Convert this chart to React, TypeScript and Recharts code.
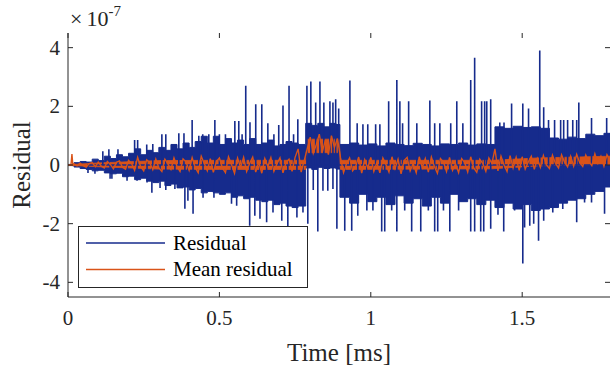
import { ComposedChart, XAxis, YAxis, Line, Area, Legend } from "recharts";

const BLUE = "#162b8c";
const ORANGE = "#d95319";
const AXIS = "#262626";
const FONT = '"Liberation Serif", "Times New Roman", serif';

const PLOT_TOP = 33;
const PLOT_RIGHT = 610;

// ticks: time in ms, residual in units of 1e-7
const timeTicks = [0, 0.5, 1, 1.5];
const residualTicks = [-4, -2, 0, 2, 4];

// dense part of the residual (envelope of the blue band)
const bandTime = [
  0, 0.02, 0.04, 0.06, 0.08, 0.1, 0.12, 0.14, 0.16, 0.18, 0.2, 0.22, 0.24, 0.26, 0.28, 0.3, 0.32, 0.34, 0.36, 0.38,
  0.4, 0.42, 0.44, 0.46, 0.48, 0.5, 0.52, 0.54, 0.56, 0.58, 0.6, 0.62, 0.64, 0.66, 0.68, 0.7, 0.72, 0.74, 0.76,
  0.785, 0.805, 0.825, 0.845, 0.865, 0.885,
  0.898, 0.93, 0.96, 0.99, 1.02, 1.05, 1.08, 1.11, 1.14, 1.17, 1.2, 1.23, 1.26, 1.29, 1.32, 1.35, 1.38, 1.41, 1.44,
  1.47, 1.5, 1.53, 1.56, 1.59, 1.62, 1.65, 1.68, 1.71, 1.74, 1.77, 1.79,
];
const bandUpper = [
  0.02, 0.08, 0.12, 0.1, 0.2, 0.15, 0.3, 0.22, 0.35, 0.28, 0.4, 0.55, 0.35, 0.5, 0.42, 0.6, 0.5, 0.7, 0.55, 0.75,
  0.6, 0.8, 0.98, 0.75, 0.98, 0.7, 0.9, 0.75, 0.85, 0.7, 0.9, 0.7, 0.75, 0.85, 0.65, 0.7, 0.8, 0.75, 0.7,
  1.42, 1.35, 1.42, 1.3, 1.42, 1.38,
  0.7, 0.75, 0.68, 0.72, 0.65, 0.75, 0.7, 0.66, 0.74, 0.7, 0.65, 0.72, 0.7, 0.75, 0.68, 0.72, 0.7, 1.3, 1.25,
  1.32, 1.28, 1.3, 1.25, 0.92, 0.88, 0.95, 0.9, 1.05, 1.0, 1.08, 1.05,
];
const bandLower = [
  -0.02, -0.07, -0.12, -0.15, -0.2, -0.18, -0.27, -0.3, -0.28, -0.4, -0.38, -0.5, -0.45, -0.55, -0.6, -0.55, -0.7, -0.65, -0.78, -0.75,
  -0.85, -0.8, -0.95, -0.9, -0.95, -1.0, -0.95, -1.1, -1.05, -1.15, -1.1, -1.2, -1.25, -1.2, -1.35, -1.3, -1.4, -1.45, -1.4,
  -0.1, -0.15, -0.08, -0.12, -0.1, -0.14,
  -1.1, -1.3, -1.0, -1.25, -1.1, -1.35, -1.05, -1.3, -1.15, -1.4, -1.1, -1.3, -1.0, -1.25, -1.15, -1.35, -1.2, -1.45, -1.3,
  -1.5, -1.35, -1.55, -1.5, -1.45, -1.3, -1.2, -1.15, -1.0, -0.9, -0.75, -0.65,
];

// residual spikes above the band
const upTime = [0.115, 0.135, 0.165, 0.22, 0.23, 0.26, 0.28, 0.31, 0.323, 0.366, 0.383, 0.41, 0.432, 0.445, 0.465, 0.485, 0.5, 0.52, 0.551, 0.564, 0.575, 0.587, 0.601, 0.62, 0.64, 0.66, 0.68, 0.696, 0.71, 0.73, 0.745, 0.759, 0.789, 0.802, 0.818, 0.832, 0.845, 0.865, 0.875, 0.884, 0.894, 0.931, 0.955, 0.974, 0.99, 1.016, 1.03, 1.059, 1.086, 1.096, 1.105, 1.125, 1.152, 1.195, 1.211, 1.228, 1.264, 1.284, 1.304, 1.33, 1.343, 1.366, 1.376, 1.383, 1.396, 1.426, 1.44, 1.465, 1.502, 1.521, 1.558, 1.571, 1.587, 1.607, 1.627, 1.637, 1.65, 1.667, 1.68, 1.687, 1.729, 1.779];
const upValue = [0.47, 0.54, 0.54, 0.85, 0.85, 0.7, 0.72, 1.05, 1.05, 1.08, 1.08, 1.53, 1.0, 1.05, 1.05, 1.53, 1.05, 1.05, 1.5, 1.5, 1.05, 2.7, 1.46, 2.07, 2.07, 1.42, 1.05, 1.36, 2.03, 2.7, 1.05, 1.56, 2.7, 2.85, 2.13, 2.85, 2.13, 2.17, 2.13, 2.24, 1.93, 2.88, 1.42, 1.39, 1.39, 1.39, 1.39, 2.17, 2.9, 2.17, 1.42, 2.17, 1.42, 2.2, 1.42, 1.42, 1.42, 2.17, 1.42, 2.9, 3.66, 2.17, 2.17, 2.17, 2.24, 1.45, 1.45, 2.1, 2.1, 1.93, 3.9, 1.97, 1.53, 1.53, 1.53, 1.53, 1.53, 1.53, 1.53, 2.13, 1.6, 1.6];

// residual spikes below the band
const downTime = [0.066, 0.089, 0.139, 0.145, 0.195, 0.228, 0.261, 0.277, 0.304, 0.323, 0.353, 0.386, 0.396, 0.413, 0.446, 0.482, 0.54, 0.557, 0.6, 0.617, 0.634, 0.656, 0.677, 0.706, 0.726, 0.756, 0.776, 0.792, 0.81, 0.825, 0.842, 0.858, 0.875, 0.888, 0.914, 0.937, 0.957, 0.987, 1.007, 1.036, 1.046, 1.069, 1.086, 1.112, 1.135, 1.165, 1.19, 1.211, 1.221, 1.24, 1.261, 1.29, 1.33, 1.343, 1.363, 1.373, 1.396, 1.42, 1.439, 1.475, 1.502, 1.508, 1.525, 1.538, 1.554, 1.571, 1.601, 1.634, 1.68, 1.706, 1.729, 1.772];
const downValue = [-0.27, -0.3, -0.47, -0.47, -0.54, -0.54, -0.6, -0.95, -0.78, -0.85, -0.82, -1.49, -1.22, -1.66, -1.12, -1.12, -1.32, -1.39, -2.07, -1.73, -1.83, -1.95, -1.62, -1.9, -2.13, -1.79, -1.62, -2.0, -0.85, -2.27, -0.88, -0.88, -0.82, -2.17, -2.24, -2.24, -1.73, -1.55, -1.55, -2.27, -2.27, -1.55, -2.27, -1.55, -2.27, -2.27, -1.55, -2.27, -2.27, -1.55, -2.27, -1.55, -2.27, -2.27, -2.27, -2.27, -2.17, -1.7, -2.27, -1.55, -3.36, -2.13, -2.07, -2.0, -2.58, -1.9, -1.62, -1.5, -1.95, -1.28, -1.28, -1.66];

// mean residual: core ribbon + noisy trace
const meanBandTime = [0, 0.1, 0.3, 0.5, 0.785, 0.79, 0.895, 0.9, 1.4, 1.55, 1.79];
const meanBandUpper = [0.01, 0.07, 0.15, 0.16, 0.16, 0.88, 0.88, 0.16, 0.16, 0.24, 0.3];
const meanBandLower = [-0.01, -0.06, -0.14, -0.15, -0.15, 0.42, 0.42, -0.15, -0.13, -0.03, 0.02];

const meanTime = [
  0, 0.005, 0.01, 0.013, 0.016,
  0.02, 0.03, 0.04, 0.05, 0.06, 0.07, 0.08, 0.09,
  0.1, 0.11, 0.12, 0.13, 0.14, 0.15, 0.16, 0.17, 0.18, 0.19,
  0.2, 0.21, 0.22, 0.23, 0.24, 0.25, 0.26, 0.27, 0.28, 0.29,
  0.3, 0.31, 0.32, 0.33, 0.34, 0.35, 0.36, 0.37, 0.38, 0.39,
  0.4, 0.41, 0.42, 0.43, 0.44, 0.45, 0.46, 0.47, 0.48, 0.49,
  0.5, 0.51, 0.52, 0.53, 0.54, 0.55, 0.56, 0.57, 0.58, 0.59,
  0.6, 0.61, 0.62, 0.63, 0.64, 0.65, 0.66, 0.67, 0.68, 0.69,
  0.7, 0.71, 0.72, 0.73, 0.74, 0.75, 0.76, 0.77, 0.78, 0.79,
  0.8, 0.81, 0.82, 0.83, 0.84, 0.85, 0.86, 0.87, 0.88, 0.89,
  0.9, 0.91, 0.92, 0.93, 0.94, 0.95, 0.96, 0.97, 0.98, 0.99,
  1.0, 1.01, 1.02, 1.03, 1.04, 1.05, 1.06, 1.07, 1.08, 1.09,
  1.1, 1.11, 1.12, 1.13, 1.14, 1.15, 1.16, 1.17, 1.18, 1.19,
  1.2, 1.21, 1.22, 1.23, 1.24, 1.25, 1.26, 1.27, 1.28, 1.29,
  1.3, 1.31, 1.32, 1.33, 1.34, 1.35, 1.36, 1.37, 1.38, 1.39,
  1.4, 1.41, 1.42, 1.43, 1.44, 1.45, 1.46, 1.47, 1.48, 1.49,
  1.5, 1.51, 1.52, 1.53, 1.54, 1.55, 1.56, 1.57, 1.58, 1.59,
  1.6, 1.61, 1.62, 1.63, 1.64, 1.65, 1.66, 1.67, 1.68, 1.69,
  1.7, 1.71, 1.72, 1.73, 1.74, 1.75, 1.76, 1.77, 1.78, 1.79,
];
const meanValue = [
  0, 0.01, 0.02, 0.37, 0,
  0.04, -0.03, 0.06, -0.02, -0.07, 0.05, 0.08, -0.06,
  0.1, -0.04, -0.1, 0.12, 0.02, -0.13, 0.09, 0.14, -0.08, -0.14,
  0.16, 0.05, -0.18, 0.26, -0.06, -0.2, 0.18, 0.08, -0.16, 0.2,
  -0.1, -0.22, 0.2, 0.04, -0.15, 0.24, -0.05, -0.22, 0.21, 0.1,
  -0.18, 0.25, -0.08, -0.26, 0.3, 0.05, -0.2, 0.22, -0.25, 0.12,
  0.24, -0.1, -0.26, 0.28, 0.02, -0.28, 0.24, -0.08, 0.26, -0.22,
  0.06, 0.27, -0.24, 0.1, -0.28, 0.22, -0.05, 0.25, -0.22, 0.04,
  0.24, -0.27, 0.08, 0.2, -0.22, 0.26, 0.55, -0.24, 0.15, 0.55,
  0.95, 0.4, 0.7, 1.05, 0.45, 0.85, 0.35, 1.0, 0.6, 0.9,
  0.25, -0.26, 0.05, 0.24, -0.2, -0.05, 0.27, -0.28, 0.18, -0.1,
  0.26, -0.22, 0.08, -0.27, 0.24, 0.02, -0.24, 0.28, -0.12, 0.2,
  -0.3, 0.15, 0.26, -0.2, 0.05, -0.26, 0.28, -0.08, 0.22, -0.24,
  0.27, -0.05, -0.28, 0.22, 0.1, -0.22, 0.26, -0.18, 0.04, -0.26,
  0.22, 0.08, -0.24, 0.28, -0.1, -0.25, 0.2, 0.05, -0.22, 0.24,
  0.05, 0.55, -0.2, 0.3, 0.0, -0.22, 0.32, -0.1, 0.26, -0.18,
  0.28, -0.14, 0.1, 0.3, -0.15, 0.22, -0.08, 0.32, 0.0, -0.12,
  0.33, 0.05, -0.1, 0.35, 0.1, -0.06, 0.3, -0.04, 0.36, 0.08,
  -0.05, 0.34, 0.12, -0.02, 0.38, 0.06, 0.3, -0.04, 0.35, 0.15,
];

const legendItems = [
  { name: "Residual", color: BLUE },
  { name: "Mean residual", color: ORANGE },
];

const bandData = bandTime.map((t, i) => ({ t, range: [bandLower[i], bandUpper[i]] }));
const spikeData = [
  ...upTime.map((t, i) => ({ t, v: upValue[i] })),
  ...downTime.map((t, i) => ({ t, v: downValue[i] })),
]
  .sort((a, b) => a.t - b.t)
  .flatMap((s) => [{ t: s.t, v: 0 }, { t: s.t, v: s.v }, { t: s.t, v: 0 }]);
const meanBandData = meanBandTime.map((t, i) => ({ t, range: [meanBandLower[i], meanBandUpper[i]] }));
const meanData = meanTime.map((t, i) => ({ t, v: meanValue[i] }));

function TimeTick({ x, y, payload }: any) {
  return (
    <g>
      <line x1={x} x2={x} y1={y} y2={y - 5} stroke={AXIS} />
      <line x1={x} x2={x} y1={PLOT_TOP} y2={PLOT_TOP + 5} stroke={AXIS} />
      <text x={x} y={y + 28} textAnchor="middle" style={{ fontFamily: FONT, fontSize: 21 }} fill={AXIS}>
        {payload.value}
      </text>
    </g>
  );
}

function ResidualTick({ x, y, payload }: any) {
  return (
    <g>
      <line x1={x} x2={x + 5} y1={y} y2={y} stroke={AXIS} />
      <line x1={PLOT_RIGHT} x2={PLOT_RIGHT - 5} y1={y} y2={y} stroke={AXIS} />
      <text x={x - 8} y={y + 7} textAnchor="end" style={{ fontFamily: FONT, fontSize: 21 }} fill={AXIS}>
        {payload.value}
      </text>
    </g>
  );
}

function LegendBox() {
  return (
    <svg width={230} height={62} style={{ display: "block" }}>
      <rect x={0.5} y={0.5} width={229} height={61} fill="#fff" stroke={AXIS} />
      {legendItems.map((it, i) => (
        <g key={it.name}>
          <line x1={8} x2={87} y1={17 + i * 26.5} y2={17 + i * 26.5} stroke={it.color} strokeWidth={1.3} />
          <text x={95} y={23.5 + i * 26.5} style={{ fontFamily: FONT, fontSize: 21 }} fill="#000">
            {it.name}
          </text>
        </g>
      ))}
    </svg>
  );
}

export default function App() {
  return (
    <div style={{ position: "fixed", left: 0, top: 0, width: 611, height: 370, background: "#fff" }}>
      <ComposedChart width={611} height={370} margin={{ top: PLOT_TOP, right: 1, bottom: 43, left: 28 }}>
        <XAxis
          dataKey="t"
          type="number"
          domain={[0, 1.79]}
          allowDataOverflow
          ticks={timeTicks}
          height={30}
          tickSize={0}
          tickMargin={0}
          tickLine={false}
          axisLine={{ stroke: AXIS }}
          tick={<TimeTick />}
          label={(p: any) => (
            <text
              x={p.viewBox.x + p.viewBox.width / 2}
              y={p.viewBox.y + 64}
              textAnchor="middle"
              style={{ fontFamily: FONT, fontSize: 25 }}
              fill={AXIS}
            >
              Time [ms]
            </text>
          )}
        />
        <XAxis
          xAxisId="top"
          orientation="top"
          type="number"
          domain={[0, 1.79]}
          height={0}
          tick={false}
          tickLine={false}
          axisLine={{ stroke: AXIS }}
        />
        <YAxis
          type="number"
          domain={[-4.5, 4.5]}
          allowDataOverflow
          ticks={residualTicks}
          width={40}
          tickSize={0}
          tickMargin={0}
          tickLine={false}
          axisLine={{ stroke: AXIS }}
          tick={<ResidualTick />}
          label={(p: any) => {
            const vb = p.viewBox;
            const cy = vb.y + vb.height / 2;
            const ax = vb.x + vb.width;
            return (
              <g>
                <text
                  x={30}
                  y={cy}
                  transform={`rotate(-90 30 ${cy})`}
                  textAnchor="middle"
                  style={{ fontFamily: FONT, fontSize: 25 }}
                  fill={AXIS}
                >
                  Residual
                </text>
                <text x={ax + 2} y={vb.y - 7} style={{ fontFamily: FONT, fontSize: 22 }} fill={AXIS}>
                  ×<tspan dx={4}>10</tspan>
                  <tspan dy={-10} style={{ fontSize: 15 }}>
                    -7
                  </tspan>
                </text>
              </g>
            );
          }}
        />
        <YAxis
          yAxisId="right"
          orientation="right"
          type="number"
          domain={[-4.5, 4.5]}
          width={0}
          tick={false}
          tickLine={false}
          axisLine={{ stroke: AXIS }}
        />
        <Area
          data={bandData}
          dataKey="range"
          type="stepAfter"
          stroke={BLUE}
          strokeWidth={1}
          fill={BLUE}
          fillOpacity={1}
          isAnimationActive={false}
          legendType="none"
        />
        <Line
          data={spikeData}
          dataKey="v"
          type="linear"
          stroke={BLUE}
          strokeWidth={1.6}
          dot={false}
          isAnimationActive={false}
          legendType="none"
        />
        <Area
          data={meanBandData}
          dataKey="range"
          type="linear"
          stroke={ORANGE}
          strokeWidth={0.8}
          fill={ORANGE}
          fillOpacity={1}
          isAnimationActive={false}
          legendType="none"
        />
        <Line
          data={meanData}
          dataKey="v"
          type="linear"
          stroke={ORANGE}
          strokeWidth={1.4}
          dot={false}
          isAnimationActive={false}
          legendType="none"
        />
        <Legend
          layout="vertical"
          align="center"
          verticalAlign="middle"
          wrapperStyle={{ left: 78, top: 226, width: 230, height: 62 }}
          content={() => <LegendBox />}
        />
      </ComposedChart>
    </div>
  );
}
